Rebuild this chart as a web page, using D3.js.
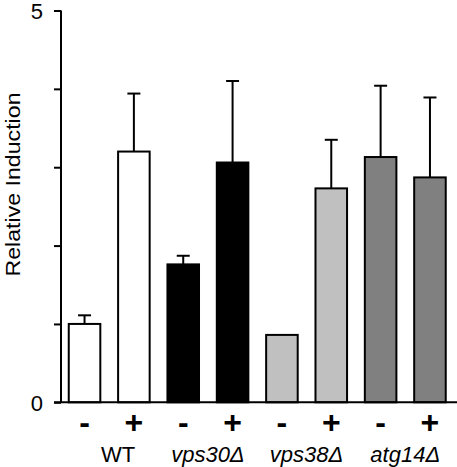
<!DOCTYPE html>
<html><head><meta charset="utf-8">
<script src="https://cdn.jsdelivr.net/npm/d3@7"></script>
<style>body{margin:0;background:#fff}svg{display:block}text{font-family:Arial,"Liberation Sans",sans-serif;fill:#000}</style>
</head><body>
<svg id="c" width="457" height="467"></svg>
<script>
const groups = ["WT", "vps30Δ", "vps38Δ", "atg14Δ"];
const treatments = ["-", "+"];
const groupColors = ["#ffffff", "#000000", "#c0c0c0", "#808080"];
const values = [1.00, 3.20, 1.76, 3.06, 0.86, 2.73, 3.13, 2.87];
const errors = [0.11, 0.74, 0.11, 1.04, 0, 0.62, 0.91, 1.02];
const yTicks = [0, 1, 2, 3, 4, 5];
const yTickLabels = ["0", "", "", "", "", "5"];

const svg = d3.select("#c");
const bars = [];
groups.forEach((g, gi) => treatments.forEach((t, ti) => {
  const i = gi * 2 + ti;
  bars.push({key: i, group: g, gi, t, v: values[i], e: errors[i]});
}));

const y = d3.scaleLinear().domain([0, 5]).range([402.3, 10.5]);
const x = d3.scaleBand().domain(bars.map(d => d.key)).range([61, 453.5]).paddingInner(0.32).paddingOuter(0.137);

// axes
const yAxis = d3.axisLeft(y).tickValues(yTicks).tickFormat((d, i) => yTickLabels[i]).tickSize(7).tickPadding(11);
const ya = svg.append("g").attr("transform", "translate(61,0)").call(yAxis);
ya.select(".domain").remove();
ya.selectAll(".tick line").attr("stroke", "#000").attr("stroke-width", 2);
ya.selectAll(".tick text").attr("font-size", 22).attr("dy", "0.35em").style("font-family", "Arial, 'Liberation Sans', sans-serif");
svg.append("line").attr("x1", 61).attr("x2", 61).attr("y1", y(5)).attr("y2", y(0)).attr("stroke", "#000").attr("stroke-width", 2);

// error bars
const eb = svg.append("g");
bars.filter(d => d.e > 0).forEach(d => {
  const cx = x(d.key) + x.bandwidth() / 2;
  eb.append("line").attr("x1", cx).attr("x2", cx).attr("y1", y(d.v)).attr("y2", y(d.v + d.e)).attr("stroke", "#000").attr("stroke-width", 2);
  eb.append("line").attr("x1", cx - 6.5).attr("x2", cx + 6.5).attr("y1", y(d.v + d.e)).attr("y2", y(d.v + d.e)).attr("stroke", "#000").attr("stroke-width", 2);
});

// bars
svg.append("g").selectAll("rect").data(bars).join("rect")
  .attr("x", d => x(d.key) + 1).attr("width", x.bandwidth() - 2)
  .attr("y", d => y(d.v)).attr("height", d => y(0) - y(d.v))
  .attr("fill", d => groupColors[d.gi]).attr("stroke", "#000").attr("stroke-width", 2);

// x axis line
svg.append("line").attr("x1", 54).attr("x2", 457).attr("y1", y(0)).attr("y2", y(0)).attr("stroke", "#000").attr("stroke-width", 2);

// treatment labels
svg.append("g").selectAll("text").data(bars).join("text")
  .attr("x", d => x(d.key) + x.bandwidth() / 2).attr("y", 433)
  .attr("text-anchor", "middle").attr("font-size", 32).attr("font-weight", "bold")
  .text(d => d.t);

// group labels
svg.append("g").selectAll("text").data(groups).join("text")
  .attr("x", (g, gi) => (x(gi * 2) + x(gi * 2 + 1) + x.bandwidth()) / 2 + (gi === 0 ? 9 : 0))
  .attr("y", 462).attr("text-anchor", "middle").attr("font-size", 22)
  .attr("font-style", (g, gi) => gi === 0 ? "normal" : "italic")
  .text(g => g);

// y label
svg.append("text").attr("transform", "translate(19.5,184.5) rotate(-90)")
  .attr("text-anchor", "middle").attr("font-size", 21)
  .attr("textLength", 184).attr("lengthAdjust", "spacingAndGlyphs")
  .text("Relative Induction");
</script>
</body></html>
